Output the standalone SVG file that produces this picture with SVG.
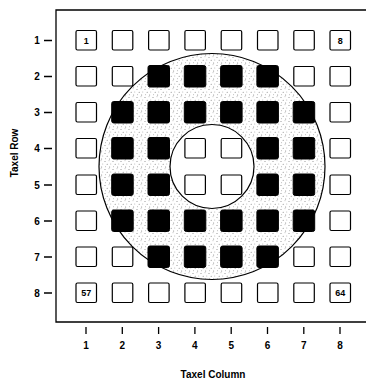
<svg xmlns="http://www.w3.org/2000/svg" width="367" height="380" viewBox="0 0 367 380">
<style>
.t{font-family:"Liberation Sans",Arial,sans-serif;font-weight:bold;fill:#000}
.ax{font-size:10px;text-anchor:middle}
.sq{fill:#fff;stroke:#000;stroke-width:1.2}
.bk{fill:#000;stroke:#000;stroke-width:1}
.in{font-size:9px;text-anchor:middle}
.ln{stroke:#000;stroke-width:1.3;fill:none}
</style>
<defs>
<pattern id="dots" width="8" height="8" patternUnits="userSpaceOnUse">
<rect width="8" height="8" fill="#fff"/>
<circle cx="1" cy="1.5" r="0.5" fill="#777"/>
<circle cx="5" cy="0.8" r="0.45" fill="#888"/>
<circle cx="3.2" cy="4.3" r="0.5" fill="#777"/>
<circle cx="6.8" cy="4" r="0.45" fill="#888"/>
<circle cx="1.6" cy="6.8" r="0.45" fill="#888"/>
<circle cx="5.6" cy="7" r="0.5" fill="#777"/>
</pattern>
</defs>
<g id="frame">
<path class="ln" d="M366,10 L56,10 L56,322 L366,322"/>
</g>
<g id="annulus">
<path d="M99,166.5 a113,113 0 1,0 226,0 a113,113 0 1,0 -226,0 Z M170,166.5 a42,42 0 1,0 84,0 a42,42 0 1,0 -84,0 Z" fill="url(#dots)" fill-rule="evenodd" stroke="#000" stroke-width="1.2"/>
</g>
<g id="y-axis">
<g class="t ax"><text x="37" y="44">1</text><text x="37" y="80">2</text><text x="37" y="116">3</text><text x="37" y="152">4</text><text x="37" y="189">5</text><text x="37" y="225">6</text><text x="37" y="261">7</text><text x="37" y="297">8</text></g>
<path class="ln" d="M44,40.5 H52 M44,76.5 H52 M44,112.5 H52 M44,148.5 H52 M44,185 H52 M44,221 H52 M44,257 H52 M44,293 H52" stroke-width="1"/>
<text class="t" font-size="10" text-anchor="middle" transform="translate(18,153) rotate(-90)">Taxel Row</text>
</g>
<g id="x-axis">
<path class="ln" d="M86,327 V334 M122.3,327 V334 M158.6,327 V334 M194.9,327 V334 M231.2,327 V334 M267.5,327 V334 M303.8,327 V334 M340,327 V334" stroke-width="1"/>
<g class="t ax"><text x="86" y="349">1</text><text x="122.3" y="349">2</text><text x="158.6" y="349">3</text><text x="194.9" y="349">4</text><text x="231.2" y="349">5</text><text x="267.5" y="349">6</text><text x="303.8" y="349">7</text><text x="340" y="349">8</text></g>
<text class="t ax" x="213" y="378">Taxel Column</text>
</g>
<g id="taxels">
<g id="r1">
<rect class="sq" x="76" y="30.5" width="20.5" height="19.5" rx="1.5"/>
<rect class="sq" x="112.3" y="30.5" width="20.5" height="19.5" rx="1.5"/>
<rect class="sq" x="148.6" y="30.5" width="20.5" height="19.5" rx="1.5"/>
<rect class="sq" x="184.9" y="30.5" width="20.5" height="19.5" rx="1.5"/>
<rect class="sq" x="221.2" y="30.5" width="20.5" height="19.5" rx="1.5"/>
<rect class="sq" x="257.5" y="30.5" width="20.5" height="19.5" rx="1.5"/>
<rect class="sq" x="293.8" y="30.5" width="20.5" height="19.5" rx="1.5"/>
<rect class="sq" x="330" y="30.5" width="20.5" height="19.5" rx="1.5"/>
<text class="t in" x="86.3" y="43.5">1</text>
<text class="t in" x="340.3" y="43.5">8</text>
</g>
<g id="r2">
<rect class="sq" x="76" y="66.5" width="20.5" height="19.5" rx="1.5"/>
<rect class="sq" x="112.3" y="66.5" width="20.5" height="19.5" rx="1.5"/>
<rect class="bk" x="148" y="65.5" width="21.5" height="21.5" rx="2"/>
<rect class="bk" x="184.3" y="65.5" width="21.5" height="21.5" rx="2"/>
<rect class="bk" x="220.6" y="65.5" width="21.5" height="21.5" rx="2"/>
<rect class="bk" x="256.9" y="65.5" width="21.5" height="21.5" rx="2"/>
<rect class="sq" x="293.8" y="66.5" width="20.5" height="19.5" rx="1.5"/>
<rect class="sq" x="330" y="66.5" width="20.5" height="19.5" rx="1.5"/>
</g>
<g id="r3">
<rect class="sq" x="76" y="102.5" width="20.5" height="19.5" rx="1.5"/>
<rect class="bk" x="111.7" y="101.5" width="21.5" height="21.5" rx="2"/>
<rect class="bk" x="148" y="101.5" width="21.5" height="21.5" rx="2"/>
<rect class="bk" x="184.3" y="101.5" width="21.5" height="21.5" rx="2"/>
<rect class="bk" x="220.6" y="101.5" width="21.5" height="21.5" rx="2"/>
<rect class="bk" x="256.9" y="101.5" width="21.5" height="21.5" rx="2"/>
<rect class="bk" x="293.2" y="101.5" width="21.5" height="21.5" rx="2"/>
<rect class="sq" x="330" y="102.5" width="20.5" height="19.5" rx="1.5"/>
</g>
<g id="r4">
<rect class="sq" x="76" y="138.5" width="20.5" height="19.5" rx="1.5"/>
<rect class="bk" x="111.7" y="137.5" width="21.5" height="21.5" rx="2"/>
<rect class="bk" x="148" y="137.5" width="21.5" height="21.5" rx="2"/>
<rect class="sq" x="184.9" y="138.5" width="20.5" height="19.5" rx="1.5"/>
<rect class="sq" x="221.2" y="138.5" width="20.5" height="19.5" rx="1.5"/>
<rect class="bk" x="256.9" y="137.5" width="21.5" height="21.5" rx="2"/>
<rect class="bk" x="293.2" y="137.5" width="21.5" height="21.5" rx="2"/>
<rect class="sq" x="330" y="138.5" width="20.5" height="19.5" rx="1.5"/>
</g>
<g id="r5">
<rect class="sq" x="76" y="175" width="20.5" height="19.5" rx="1.5"/>
<rect class="bk" x="111.7" y="174" width="21.5" height="21.5" rx="2"/>
<rect class="bk" x="148" y="174" width="21.5" height="21.5" rx="2"/>
<rect class="sq" x="184.9" y="175" width="20.5" height="19.5" rx="1.5"/>
<rect class="sq" x="221.2" y="175" width="20.5" height="19.5" rx="1.5"/>
<rect class="bk" x="256.9" y="174" width="21.5" height="21.5" rx="2"/>
<rect class="bk" x="293.2" y="174" width="21.5" height="21.5" rx="2"/>
<rect class="sq" x="330" y="175" width="20.5" height="19.5" rx="1.5"/>
</g>
<g id="r6">
<rect class="sq" x="76" y="211" width="20.5" height="19.5" rx="1.5"/>
<rect class="bk" x="111.7" y="210" width="21.5" height="21.5" rx="2"/>
<rect class="bk" x="148" y="210" width="21.5" height="21.5" rx="2"/>
<rect class="bk" x="184.3" y="210" width="21.5" height="21.5" rx="2"/>
<rect class="bk" x="220.6" y="210" width="21.5" height="21.5" rx="2"/>
<rect class="bk" x="256.9" y="210" width="21.5" height="21.5" rx="2"/>
<rect class="bk" x="293.2" y="210" width="21.5" height="21.5" rx="2"/>
<rect class="sq" x="330" y="211" width="20.5" height="19.5" rx="1.5"/>
</g>
<g id="r7">
<rect class="sq" x="76" y="247" width="20.5" height="19.5" rx="1.5"/>
<rect class="sq" x="112.3" y="247" width="20.5" height="19.5" rx="1.5"/>
<rect class="bk" x="148" y="246" width="21.5" height="21.5" rx="2"/>
<rect class="bk" x="184.3" y="246" width="21.5" height="21.5" rx="2"/>
<rect class="bk" x="220.6" y="246" width="21.5" height="21.5" rx="2"/>
<rect class="bk" x="256.9" y="246" width="21.5" height="21.5" rx="2"/>
<rect class="sq" x="293.8" y="247" width="20.5" height="19.5" rx="1.5"/>
<rect class="sq" x="330" y="247" width="20.5" height="19.5" rx="1.5"/>
</g>
<g id="r8">
<rect class="sq" x="76" y="283" width="20.5" height="19.5" rx="1.5"/>
<rect class="sq" x="112.3" y="283" width="20.5" height="19.5" rx="1.5"/>
<rect class="sq" x="148.6" y="283" width="20.5" height="19.5" rx="1.5"/>
<rect class="sq" x="184.9" y="283" width="20.5" height="19.5" rx="1.5"/>
<rect class="sq" x="221.2" y="283" width="20.5" height="19.5" rx="1.5"/>
<rect class="sq" x="257.5" y="283" width="20.5" height="19.5" rx="1.5"/>
<rect class="sq" x="293.8" y="283" width="20.5" height="19.5" rx="1.5"/>
<rect class="sq" x="330" y="283" width="20.5" height="19.5" rx="1.5"/>
<text class="t in" x="86.3" y="296.3">57</text>
<text class="t in" x="340.3" y="296.3">64</text>
</g>
</g>
</svg>
